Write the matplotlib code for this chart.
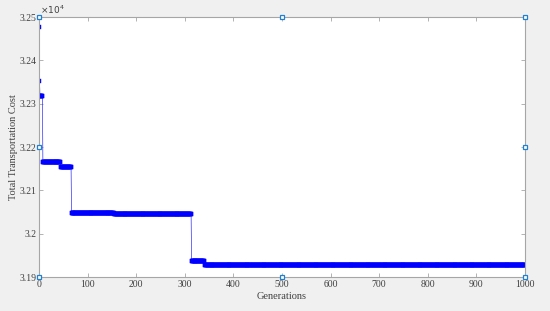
import matplotlib
matplotlib.use("Agg")
import matplotlib.pyplot as plt
from matplotlib.ticker import FuncFormatter
import numpy as np

# best-so-far cost: generation where each level starts, and its value
step_start = [0, 1, 2, 8, 45, 67, 155, 314, 341]
step_cost = [32477, 32352, 32318, 32165, 32155, 32048, 32046, 31937, 31927]
n_gen = 1000

# handles shown by MATLAB edit mode on the axes box
handle_x = [0, 500, 1000, 0, 1000, 0, 500, 1000]
handle_y = [32500, 32500, 32500, 32200, 32200, 31900, 31900, 31900]

gens = np.arange(n_gen + 1)
lengths = np.diff(step_start + [n_gen + 1])
cost = np.repeat(step_cost, lengths)

plt.rcParams['font.family'] = ['Liberation Serif', 'DejaVu Serif']

fig = plt.figure(figsize=(5.5, 3.11), dpi=100, facecolor='#f0f0f0')
ax = fig.add_axes([0.0709, 0.1093, 0.8836, 0.836])

ax.plot(gens, cost, color='#3030ff', linewidth=0.5, marker='s', markersize=2.2,
        markeredgewidth=0.3, markerfacecolor='#0000ff', markeredgecolor='#0000ff')

ax.plot(handle_x, handle_y, linestyle='none', marker='s', markersize=3,
        markerfacecolor='white', markeredgecolor='#1f7fd0', markeredgewidth=0.9,
        clip_on=False, zorder=5)

ax.set_xlim(0, 1000)
ax.set_ylim(31900, 32500)
ax.set_xticks(np.arange(0, 1001, 100))
ax.set_yticks(np.arange(31900, 32501, 100))
ax.yaxis.set_major_formatter(FuncFormatter(lambda v, p: '%g' % round(v / 1e4, 4)))

for s in ax.spines.values():
    s.set_color('#a6a6a6')
    s.set_linewidth(0.8)
ax.tick_params(direction='in', length=3, width=0.6, colors='#a6a6a6',
               labelcolor='#404040', labelsize=7, top=True, right=True, pad=2)

ax.set_xlabel('Generations', fontsize=7.5, color='#404040', labelpad=2)
ax.set_ylabel('Total Transportation Cost', fontsize=7.5, color='#404040')
ax.yaxis.set_label_coords(-0.043, 0.5)
ax.text(0.002, 1.005, r'$\times10^4$', transform=ax.transAxes, fontsize=6.5,
        color='#404040', ha='left', va='bottom')

fig.savefig('out.png', dpi=100, facecolor=fig.get_facecolor())
